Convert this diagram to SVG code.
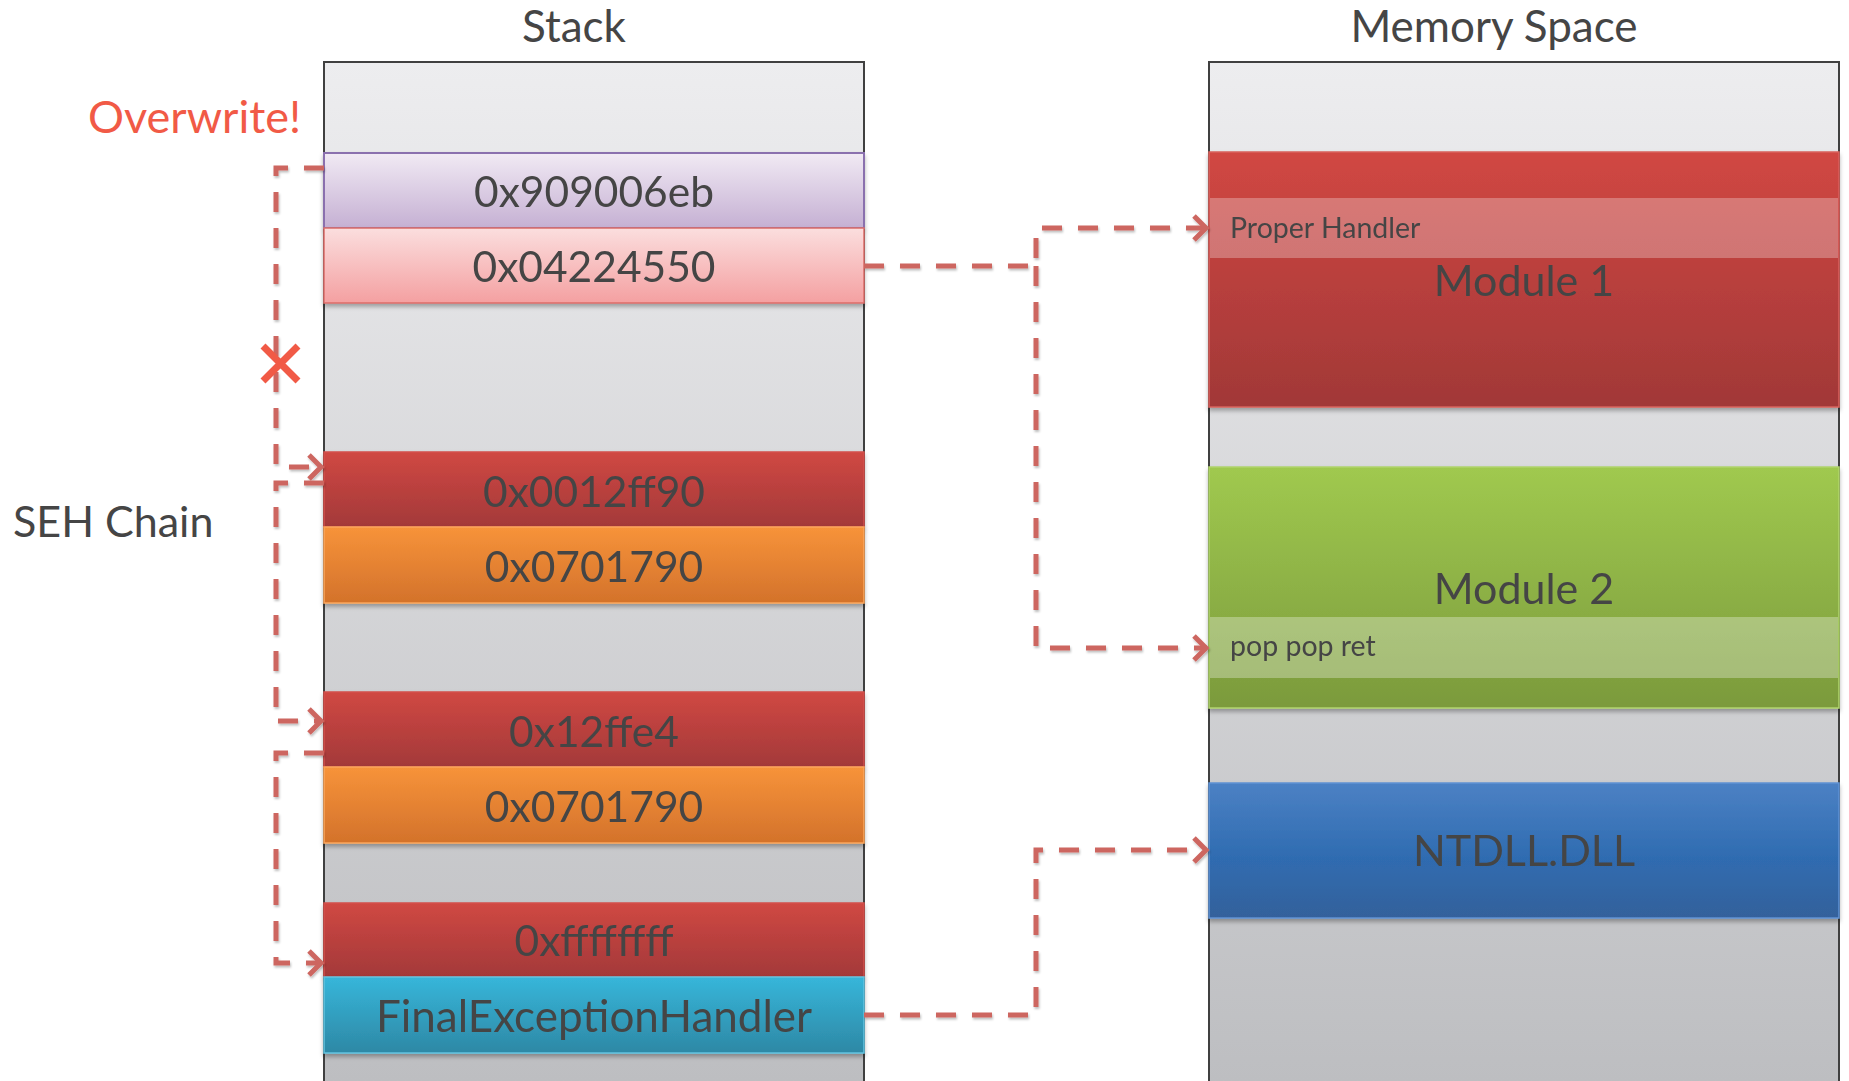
<svg xmlns="http://www.w3.org/2000/svg" width="1849" height="1081" viewBox="0 0 1849 1081">
  <style>
    text { font-family: Lato, "Open Sans", "Liberation Sans", sans-serif; fill: #454545; }
    .title { font-size: 44px; text-anchor: middle; }
    .cell { font-size: 42.5px; text-anchor: middle; }
    .wide { font-size: 44px; }
    .mod { font-size: 43px; text-anchor: middle; }
    .small { font-size: 28.5px; }
    .side { font-size: 43px; }
    .warn { fill: #f15a46; font-size: 45px; }
    .conn { fill: none; stroke: #cd6660; stroke-width: 5; stroke-dasharray: 20 16; marker-end: url(#chev); }
    .row { filter: url(#rowShadow); }
  </style>
  <defs>
    <linearGradient id="bg" gradientUnits="userSpaceOnUse" x1="0" y1="62" x2="0" y2="1081">
      <stop offset="0" stop-color="#ededef"/>
      <stop offset="1" stop-color="#bdbec1"/>
    </linearGradient>
    <linearGradient id="gPurple" x1="0" y1="0" x2="0" y2="1">
      <stop offset="0" stop-color="#f1eaf4"/>
      <stop offset="1" stop-color="#c5b0d3"/>
    </linearGradient>
    <linearGradient id="gPink" x1="0" y1="0" x2="0" y2="1">
      <stop offset="0" stop-color="#fbdede"/>
      <stop offset="1" stop-color="#f4a0a1"/>
    </linearGradient>
    <linearGradient id="gRed" x1="0" y1="0" x2="0" y2="1">
      <stop offset="0" stop-color="#d04843"/>
      <stop offset="1" stop-color="#a33939"/>
    </linearGradient>
    <linearGradient id="gOrange" x1="0" y1="0" x2="0" y2="1">
      <stop offset="0" stop-color="#f7933a"/>
      <stop offset="1" stop-color="#d3722b"/>
    </linearGradient>
    <linearGradient id="gCyan" x1="0" y1="0" x2="0" y2="1">
      <stop offset="0" stop-color="#37b6da"/>
      <stop offset="1" stop-color="#2d88a5"/>
    </linearGradient>
    <linearGradient id="gMod1" x1="0" y1="0" x2="0" y2="1">
      <stop offset="0" stop-color="#d14743"/>
      <stop offset="1" stop-color="#a13837"/>
    </linearGradient>
    <linearGradient id="gMod2" x1="0" y1="0" x2="0" y2="1">
      <stop offset="0" stop-color="#a0c94f"/>
      <stop offset="1" stop-color="#7b9a3c"/>
    </linearGradient>
    <linearGradient id="gBlue" x1="0" y1="0" x2="0" y2="1">
      <stop offset="0" stop-color="#4c81c4"/>
      <stop offset="0.55" stop-color="#2f6cb1"/>
      <stop offset="1" stop-color="#34619b"/>
    </linearGradient>
    <filter id="rowShadow" x="-5%" y="-20%" width="110%" height="150%">
      <feDropShadow dx="0" dy="3" stdDeviation="2" flood-color="#000" flood-opacity="0.3"/>
    </filter>
    <filter id="lineShadow" x="-10%" y="-10%" width="120%" height="120%">
      <feDropShadow dx="1" dy="2" stdDeviation="1" flood-color="#000" flood-opacity="0.25"/>
    </filter>
    <marker id="chev" markerUnits="userSpaceOnUse" viewBox="-24 -18 30 36" markerWidth="30" markerHeight="36" refX="0" refY="0" orient="auto">
      <path d="M-13,-12 L-1,0 L-13,12" fill="none" stroke="#cd6660" stroke-width="5"/>
    </marker>
  </defs>

  <rect width="1849" height="1081" fill="#ffffff"/>

  <!-- column headings and side labels -->
  <text class="title" x="574" y="42">Stack</text>
  <text class="title" x="1494" y="42" font-size="46">Memory Space</text>
  <text class="side warn" x="88" y="133">Overwrite!</text>
  <text class="side" x="13" y="537">SEH Chain</text>

  <!-- stack column -->
  <g id="stack">
    <rect x="324" y="62" width="540" height="1040" fill="url(#bg)" stroke="#404040" stroke-width="2"/>
    <g id="next-overwritten" class="row">
      <rect x="324" y="153" width="540" height="75" fill="url(#gPurple)" stroke="#8a70ae" stroke-width="2"/>
      <text class="cell" x="594" y="207">0x909006eb</text>
    </g>
    <g id="handler-overwritten" class="row">
      <rect x="324" y="228" width="540" height="75" fill="url(#gPink)" stroke="#dc6d69" stroke-width="1.5"/>
      <text class="cell" x="594" y="282">0x04224550</text>
    </g>
    <g id="next-1" class="row">
      <rect x="324" y="452" width="540" height="75" fill="url(#gRed)" stroke="#d3504b" stroke-width="1.5"/>
      <text class="cell" x="594" y="507">0x0012ff90</text>
    </g>
    <g id="handler-1" class="row">
      <rect x="324" y="527" width="540" height="76" fill="url(#gOrange)" stroke="#fba65c" stroke-width="1.5"/>
      <text class="cell" x="594" y="582">0x0701790</text>
    </g>
    <g id="next-2" class="row">
      <rect x="324" y="692" width="540" height="75" fill="url(#gRed)" stroke="#d3504b" stroke-width="1.5"/>
      <text class="cell" x="594" y="747">0x12ffe4</text>
    </g>
    <g id="handler-2" class="row">
      <rect x="324" y="767" width="540" height="76" fill="url(#gOrange)" stroke="#fba65c" stroke-width="1.5"/>
      <text class="cell" x="594" y="822">0x0701790</text>
    </g>
    <g id="next-last" class="row">
      <rect x="324" y="903" width="540" height="74" fill="url(#gRed)" stroke="#d3504b" stroke-width="1.5"/>
      <text class="cell" x="594" y="956">0xffffffff</text>
    </g>
    <g id="handler-final" class="row">
      <rect x="324" y="977" width="540" height="76" fill="url(#gCyan)" stroke="#62c3e0" stroke-width="1.5"/>
      <text class="cell wide" x="594" y="1032">FinalExceptionHandler</text>
    </g>
  </g>

  <!-- memory column -->
  <g id="memory">
    <rect x="1209" y="62" width="630" height="1040" fill="url(#bg)" stroke="#404040" stroke-width="2"/>
    <g id="module1" class="row">
      <rect x="1209" y="152" width="630" height="255" fill="url(#gMod1)" stroke="#d9615c" stroke-width="1.5"/>
      <rect x="1210" y="198" width="628" height="60" fill="#ffffff" fill-opacity="0.28"/>
      <text class="small" x="1230" y="238">Proper Handler</text>
      <text class="mod" x="1524" y="296">Module 1</text>
    </g>
    <g id="module2" class="row">
      <rect x="1209" y="467" width="630" height="241" fill="url(#gMod2)" stroke="#b0d46c" stroke-width="1.5"/>
      <rect x="1210" y="617" width="628" height="61" fill="#ffffff" fill-opacity="0.3"/>
      <text class="small" x="1230" y="656">pop pop ret</text>
      <text class="mod" x="1524" y="604">Module 2</text>
    </g>
    <g id="ntdll" class="row">
      <rect x="1209" y="783" width="630" height="135" fill="url(#gBlue)" stroke="#5f92d4" stroke-width="1.5"/>
      <text class="mod" x="1524" y="866">NTDLL.DLL</text>
    </g>
  </g>

  <!-- dashed pointers -->
  <g id="connectors" filter="url(#lineShadow)">
    <path class="conn" d="M324,168 H276 V467 H322"/>
    <path class="conn" d="M324,483 H276 V721 H322"/>
    <path class="conn" d="M324,753 H276 V963 H322"/>
    <path class="conn" d="M864,266 H1036 V228 H1207"/>
    <path class="conn" d="M1036,266 V648 H1207"/>
    <path class="conn" d="M864,1015 H1036 V850 H1207"/>
  </g>

  <!-- broken link mark -->
  <g id="broken-mark" stroke="#f15a46" stroke-width="7" fill="none">
    <path d="M263,346 L298,381 M298,346 L263,381"/>
  </g>
</svg>
